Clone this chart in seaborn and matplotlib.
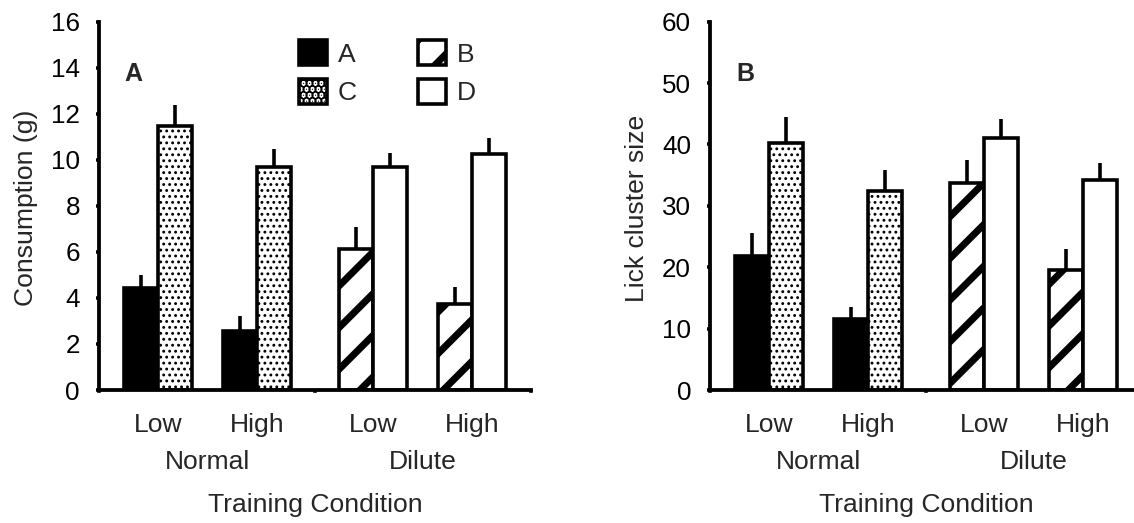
import numpy as np
import pandas as pd
import matplotlib
matplotlib.use("Agg")
import matplotlib.pyplot as plt
import matplotlib.transforms as mtransforms
import seaborn as sns

# ---------------------------------------------------------------- data
group_levels = ["Low", "High", "Low", "High"]
group_conditions = ["Normal", "Normal", "Dilute", "Dilute"]
conditions = ["Normal", "Dilute"]
series_names = ["A", "B", "C", "D"]
left_series = ["A", "A", "B", "B"]
right_series = ["C", "C", "D", "D"]

consumption_left = [4.45, 2.57, 6.14, 3.72]
consumption_left_err = [0.55, 0.65, 0.92, 0.77]
consumption_right = [11.48, 9.67, 9.67, 10.25]
consumption_right_err = [0.90, 0.79, 0.62, 0.68]

cluster_left = [21.9, 11.6, 33.7, 19.5]
cluster_left_err = [3.6, 2.0, 3.7, 3.5]
cluster_right = [40.2, 32.4, 41.0, 34.2]
cluster_right_err = [4.2, 3.5, 3.1, 2.7]

consumption_ticks = [0, 2, 4, 6, 8, 10, 12, 14, 16]
cluster_ticks = [0, 10, 20, 30, 40, 50, 60]

# ---------------------------------------------------------------- style
DPI = 250
W, H = 1134, 523


def pt(px):
    """Convert a length in output pixels to points."""
    return px * 72.0 / DPI


sns.set_style("ticks")
plt.rcParams["font.family"] = ["Liberation Sans", "DejaVu Sans"]
plt.rcParams["hatch.linewidth"] = pt(7)

FS_LABEL = pt(26.5)
FS_TICK = pt(26)
FS_LETTER = pt(25)
EDGE_LW = pt(3.6)
SPINE_LW = pt(3.8)

palette = {"A": "black", "B": "white", "C": "white", "D": "white"}
hatches = {"A": None, "B": "//", "C": ".......", "D": None}
hatch_lw = {"A": None, "B": pt(7), "C": pt(1.7), "D": None}

GAP = 0.16      # extra space between the Normal and Dilute groups
HALF = 0.17     # half of one bar width
XLIM = (-0.59, 3.75)

cond_idx = np.array([conditions.index(c) for c in group_conditions])
centers = np.arange(len(group_levels)) + GAP * cond_idx

fig = plt.figure(figsize=(W / DPI, H / DPI), dpi=DPI)
ax1 = fig.add_axes([99 / W, 1 - 390 / H, 432 / W, 368.3 / H])
ax2 = fig.add_axes([710 / W, 1 - 390 / H, 432 / W, 368.3 / H])


def fig_y(px_from_top):
    return 1 - px_from_top / H


def draw_panel(ax, lv, le, rv, re_, ticks, ylabel, ylabel_x, letter, letter_x):
    x = np.concatenate([centers - HALF, centers + HALF])
    vals = np.array(lv + rv)
    errs = np.array(le + re_)
    df = pd.DataFrame({"x": x, "value": vals, "series": left_series + right_series})
    sns.barplot(data=df, x="x", y="value", hue="series", hue_order=series_names,
                palette=palette, native_scale=True, dodge=False, width=1.0,
                errorbar=None, saturation=1, edgecolor="black",
                linewidth=EDGE_LW, legend=False, ax=ax)
    for name, cont in zip(series_names, ax.containers):
        for p in cont.patches:
            if hatches[name]:
                p.set_hatch(hatches[name])
                if hasattr(p, "set_hatch_linewidth"):
                    p.set_hatch_linewidth(hatch_lw[name])
    # upward-only error bars
    ax.vlines(x, vals, vals + errs, colors="black", linewidth=EDGE_LW, zorder=3)

    ax.set_xlim(*XLIM)
    ax.set_ylim(ticks[0], ticks[-1])
    ax.set_yticks(ticks)
    mid = (centers[1] + centers[2]) / 2
    ax.set_xticks([XLIM[0], mid, XLIM[1]])
    ax.set_xticklabels([])
    ax.set_xlabel("")
    ax.set_ylabel("")
    for s in ["top", "right"]:
        ax.spines[s].set_visible(False)
    for s in ["left", "bottom"]:
        ax.spines[s].set_linewidth(SPINE_LW)
        ax.spines[s].set_color("black")
    ax.tick_params(axis="y", direction="out", length=pt(3), width=pt(3.5),
                   labelsize=FS_TICK, pad=pt(16), colors="black")
    ax.tick_params(axis="x", direction="out", length=pt(3), width=pt(3.5))

    blend = mtransforms.blended_transform_factory(ax.transData, fig.transFigure)
    for c, lvl in zip(centers, group_levels):
        ax.text(c, fig_y(432), lvl, transform=blend, ha="center", va="baseline",
                fontsize=FS_LABEL)
    for k, cond in enumerate(conditions):
        cx = centers[cond_idx == k].mean()
        ax.text(cx, fig_y(469), cond, transform=blend, ha="center",
                va="baseline", fontsize=FS_LABEL)
    blend_ax = mtransforms.blended_transform_factory(ax.transAxes, fig.transFigure)
    ax.text(0.5, fig_y(512), "Training Condition", transform=blend_ax,
            ha="center", va="baseline", fontsize=FS_LABEL)

    fig.text(ylabel_x / W, fig_y(208), ylabel, rotation=90, ha="center",
             va="center", fontsize=FS_LABEL)
    fig.text(letter_x / W, fig_y(81), letter, ha="left", va="baseline",
             fontsize=FS_LETTER, fontweight="bold")


draw_panel(ax1, consumption_left, consumption_left_err, consumption_right,
           consumption_right_err, consumption_ticks, "Consumption (g)", 26,
           "A", 124)
draw_panel(ax2, cluster_left, cluster_left_err, cluster_right,
           cluster_right_err, cluster_ticks, "Lick cluster size", 637,
           "B", 736)

# legend: A / B on the first row, C / D on the second
by_name = {n: c.patches[0] for n, c in zip(series_names, ax1.containers)}
order = ["A", "C", "B", "D"]
leg = ax1.legend([by_name[n] for n in order], order, ncol=2, frameon=False,
                 loc="upper left", bbox_to_anchor=(299 / W, fig_y(40)),
                 bbox_transform=fig.transFigure, borderpad=0, borderaxespad=0,
                 fontsize=FS_LABEL, handlelength=28 / 26.5,
                 handleheight=29 / 26.5, handletextpad=11 / 26.5,
                 columnspacing=2.3, labelspacing=0.45)

fig.savefig("out.png", dpi=DPI)
